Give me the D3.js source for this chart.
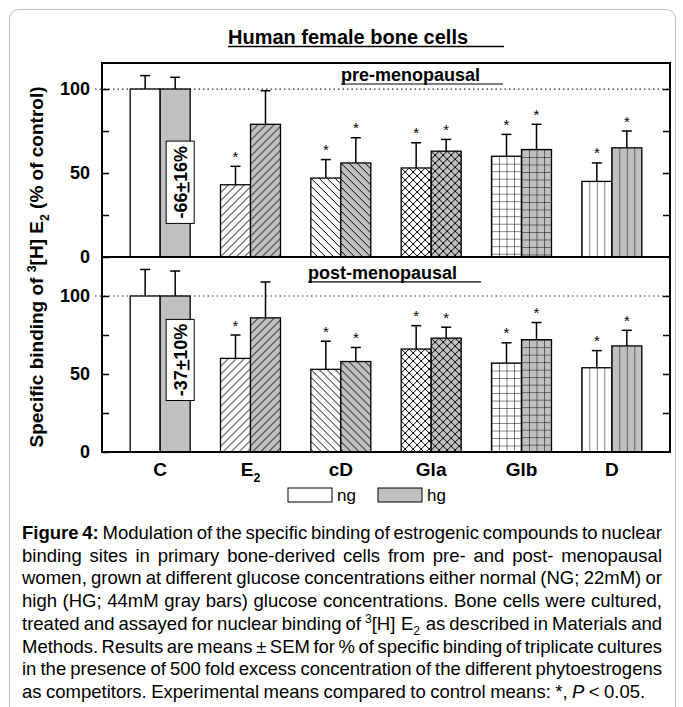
<!DOCTYPE html>
<html>
<head>
<meta charset="utf-8">
<script src="https://cdn.jsdelivr.net/npm/d3@7"></script>
<style>
  body { margin: 0; background: #fff; }
  svg text { font-family: "Liberation Sans Narrow", "Arial Narrow", "Liberation Sans", Arial, sans-serif; fill: #000; }
</style>
</head>
<body>
<div id="container"></div>
<script>
/* DATA */
const categories = ["C", "E2", "cD", "Gla", "Glb", "D"];
const categoryLabels = ["C", "E_2", "cD", "Gla", "Glb", "D"];
const hatches = ["none", "fwd", "back", "cross", "grid", "vert"];
const groups = ["ng", "hg"];

// pre-menopausal, % of control (mean, SEM)
const preNG = [100, 43, 47, 53, 60, 45];
const preNGsem = [8, 11, 11, 15, 13, 11];
const preHG = [100, 79, 56, 63, 64, 65];
const preHGsem = [7, 20, 15, 7, 15, 10];

// post-menopausal
const postNG = [100, 60, 53, 66, 57, 54];
const postNGsem = [17, 15, 18, 15, 13, 11];
const postHG = [100, 86, 58, 73, 72, 68];
const postHGsem = [16, 23, 9, 7, 11, 10];

// * P < 0.05
const ngStar = [0, 1, 1, 1, 1, 1];
const hgStar = [0, 0, 1, 1, 1, 1];

const yTicks = [0, 50, 100];
const yMinor = [25, 75];

const preNote = ["-66", "+", "16%"];
const postNote = ["-37", "+", "10%"];

const captionLines = [
  "Figure 4: Modulation of the specific binding of estrogenic compounds to nuclear",
  "binding sites in primary bone-derived cells from pre- and post- menopausal",
  "women, grown at different glucose concentrations either normal (NG; 22mM) or",
  "high (HG; 44mM gray bars) glucose concentrations. Bone cells were cultured,",
  "treated and assayed for nuclear binding of ^3[H] E_2 as described in Materials and",
  "Methods. Results are means \u00b1 SEM for % of specific binding of triplicate cultures",
  "in the presence of 500 fold excess concentration of the different phytoestrogens",
  "as competitors. Experimental means compared to control means: *, ~P < 0.05."
];

/* LAYOUT */
const W = 683, H = 707;
const left = 102, right = 670;
const gray = "#c0c0c0";

const svg = d3.select("#container").append("svg")
  .attr("width", W).attr("height", H);
const defs = svg.append("defs");

// page frame
svg.append("rect")
  .attr("x", 9.5).attr("y", 9.5).attr("width", 666).attr("height", 730)
  .attr("rx", 9).attr("fill", "none").attr("stroke", "#bdbdbd");

// text with ^sup, _sub and ~italic markers
function addRich(sel, str, size) {
  let italic = false, buf = "";
  const segs = [];
  for (let i = 0; i < str.length; i++) {
    const c = str[i];
    if (c === "~") {
      if (buf) segs.push({ t: buf, off: 0, it: italic });
      buf = ""; italic = true;
    } else if ((c === "^" || c === "_") && i + 1 < str.length) {
      if (buf) segs.push({ t: buf, off: 0, it: italic });
      buf = "";
      segs.push({ t: str[i + 1], off: c === "^" ? -0.38 : 0.3, it: italic, small: true });
      i++;
    } else buf += c;
  }
  if (buf) segs.push({ t: buf, off: 0, it: italic });
  let cur = 0;
  segs.forEach(s => {
    const ts = sel.append("tspan").text(s.t).attr("dy", ((s.off - cur) * size) + "px");
    cur = s.off;
    if (s.small) ts.attr("font-size", (size * 0.65) + "px");
    if (s.it) ts.attr("font-style", "italic");
  });
}

/* SCALES */
const x = d3.scaleBand().domain(categories).range([115, 657]);
const bw = 30;
const cx = c => x(c) + x.bandwidth() / 2;

const panels = [
  { key: "pre", label: "pre-menopausal", ng: preNG, ngSem: preNGsem, hg: preHG, hgSem: preHGsem,
    y: d3.scaleLinear().domain([0, 115.5]).range([257, 63]),
    note: preNote, noteFrom: 20, noteTo: 69, labelX: 341, labelY: 104.5, lineTo: 503 },
  { key: "post", label: "post-menopausal", ng: postNG, ngSem: postNGsem, hg: postHG, hgSem: postHGsem,
    y: d3.scaleLinear().domain([0, 125]).range([452, 257]),
    note: postNote, noteFrom: 33, noteTo: 85, labelX: 308, labelY: 110.6, lineTo: 481 }
];

/* TITLE */
svg.append("text")
  .attr("x", 228).attr("y", 44)
  .attr("font-size", "20px").attr("font-weight", "bold")
  .text("Human female bone cells");
svg.append("line")
  .attr("x1", 228).attr("x2", 504).attr("y1", 46.5).attr("y2", 46.5)
  .attr("stroke", "#000").attr("stroke-width", 1.5);

/* HATCH PATTERNS */
function hatchPath(type, s) {
  const fwd = `M0,${s}L${s},0M${-1},1L1,${-1}M${s - 1},${s + 1}L${s + 1},${s - 1}`;
  const back = `M0,0L${s},${s}M${-1},${s - 1}L1,${s + 1}M${s - 1},${-1}L${s + 1},1`;
  if (type === "fwd") return fwd;
  if (type === "back") return back;
  if (type === "cross") return fwd + back;
  if (type === "grid") return `M0,0L${s},0M0,0L0,${s}`;
  if (type === "vert") return `M0,0L0,${s}`;
  return "";
}

panels.forEach(p => {
  const y = p.y;
  const g = svg.append("g").attr("class", "panel-" + p.key);

  // reference line at 100 %
  g.append("line")
    .attr("x1", 95).attr("x2", right)
    .attr("y1", y(100)).attr("y2", y(100))
    .attr("stroke", "#333").attr("stroke-width", 1.2)
    .attr("stroke-dasharray", "1.5,3");

  // bars
  groups.forEach((grp, gi) => {
    const vals = p[grp], sems = p[grp + "Sem"], stars = grp === "ng" ? ngStar : hgStar;
    const bg = grp === "ng" ? "#fff" : gray;
    const bx = c => gi === 0 ? cx(c) - bw : cx(c);

    categories.forEach((c, i) => {
      const type = hatches[i];
      let fill = bg;
      if (type !== "none") {
        const s = (type === "grid" || type === "vert") ? 7.5 : 8;
        const id = `pat-${p.key}-${grp}-${i}`;
        const pat = defs.append("pattern")
          .attr("id", id).attr("patternUnits", "userSpaceOnUse")
          .attr("x", bx(c)).attr("y", y(vals[i]))
          .attr("width", s).attr("height", s);
        pat.append("rect").attr("width", s).attr("height", s).attr("fill", bg);
        pat.append("path").attr("d", hatchPath(type, s))
          .attr("stroke", "#000").attr("stroke-width", 1).attr("fill", "none");
        fill = `url(#${id})`;
      }
      g.append("rect")
        .attr("x", bx(c)).attr("width", bw)
        .attr("y", y(vals[i])).attr("height", y(0) - y(vals[i]))
        .attr("fill", fill).attr("stroke", "#000").attr("stroke-width", 1.3);

      // upper error bar
      const ex = bx(c) + bw / 2, top = y(vals[i] + sems[i]);
      g.append("line")
        .attr("x1", ex).attr("x2", ex).attr("y1", y(vals[i])).attr("y2", top)
        .attr("stroke", "#000").attr("stroke-width", 1.5);
      g.append("line")
        .attr("x1", ex - 5).attr("x2", ex + 5).attr("y1", top).attr("y2", top)
        .attr("stroke", "#000").attr("stroke-width", 1.5);

      if (stars[i]) {
        g.append("text")
          .attr("x", ex).attr("y", top - 4.5)
          .attr("text-anchor", "middle").attr("font-size", "15px")
          .text("*");
      }
    });
  });

  // percentage note on the control bar
  const nx = cx("C") + 6, nw = 28;
  g.append("rect")
    .attr("x", nx).attr("width", nw)
    .attr("y", y(p.noteTo)).attr("height", y(p.noteFrom) - y(p.noteTo))
    .attr("fill", "#fff").attr("stroke", "#000").attr("stroke-width", 1);
  const nt = g.append("text")
    .attr("transform", `translate(${nx + nw / 2 + 6.5},${(y(p.noteTo) + y(p.noteFrom)) / 2}) rotate(-90)`)
    .attr("text-anchor", "middle").attr("font-size", "18px").attr("font-weight", "bold");
  p.note.forEach((t, k) => {
    const ts = nt.append("tspan").text(t);
    if (k === 1) ts.attr("text-decoration", "underline");
  });

  // panel label
  g.append("text")
    .attr("x", p.labelX).attr("y", y(p.labelY))
    .attr("font-size", "18px").attr("font-weight", "bold")
    .text(p.label);
  g.append("line")
    .attr("x1", p.labelX).attr("x2", p.lineTo)
    .attr("y1", y(p.labelY) + 2.5).attr("y2", y(p.labelY) + 2.5)
    .attr("stroke", "#000").attr("stroke-width", 1.2);

  // axes
  const yAxis = g.append("g")
    .attr("transform", `translate(${left},0)`)
    .call(d3.axisLeft(y).tickValues(yTicks).tickSizeInner(-7).tickSizeOuter(0).tickPadding(12));
  yAxis.append("g").call(d3.axisLeft(y).tickValues(yMinor).tickSizeInner(-7).tickSizeOuter(0).tickFormat(""));
  yAxis.selectAll(".domain").remove();
  yAxis.selectAll("text").attr("font-size", "18px").attr("font-weight", "bold");

  const rAxis = g.append("g")
    .attr("transform", `translate(${right},0)`)
    .call(d3.axisRight(y).tickValues(yMinor.concat([50, 100])).tickSizeInner(-7).tickSizeOuter(0).tickFormat(""));
  rAxis.selectAll(".domain").remove();
  g.selectAll(".tick line").attr("stroke", "#000").attr("stroke-width", 1.5);

  // frame
  g.append("line").attr("x1", left).attr("x2", left)
    .attr("y1", y.range()[1]).attr("y2", y.range()[0])
    .attr("stroke", "#000").attr("stroke-width", 2);
  g.append("line").attr("x1", right).attr("x2", right)
    .attr("y1", y.range()[1]).attr("y2", y.range()[0])
    .attr("stroke", "#000").attr("stroke-width", 2);
  g.append("line").attr("x1", left - 1).attr("x2", right + 1)
    .attr("y1", y(0)).attr("y2", y(0))
    .attr("stroke", "#000").attr("stroke-width", 2);
});

svg.selectAll(".tick text").attr("font-family", null);

// top edge of the upper panel
svg.append("line").attr("x1", left - 1).attr("x2", right + 1)
  .attr("y1", panels[0].y.range()[1]).attr("y2", panels[0].y.range()[1])
  .attr("stroke", "#000").attr("stroke-width", 2);

/* X LABELS */
categories.forEach((c, i) => {
  const t = svg.append("text")
    .attr("x", cx(c)).attr("y", 476)
    .attr("text-anchor", "middle").attr("font-size", "19px").attr("font-weight", "bold");
  addRich(t, categoryLabels[i], 19);
});

/* Y AXIS TITLE */
const yt = svg.append("text")
  .attr("transform", "translate(43,267) rotate(-90)")
  .attr("text-anchor", "middle").attr("font-size", "19px").attr("font-weight", "bold");
addRich(yt, "Specific binding of ^3[H] E_2 (% of control)", 19);

/* LEGEND */
const legX = [288, 378];
groups.forEach((grp, i) => {
  svg.append("rect")
    .attr("x", legX[i]).attr("y", 488).attr("width", 44).attr("height", 14)
    .attr("fill", i === 0 ? "#fff" : gray).attr("stroke", "#000").attr("stroke-width", 1);
  svg.append("text")
    .attr("x", legX[i] + 49).attr("y", 501)
    .attr("font-size", "17px").text(grp);
});

/* CAPTION (justified) */
const capLeft = 22, capRight = 662, capTop = 539, capLead = 22.7, capSize = 18.5;
const cap = svg.append("g");
captionLines.forEach((line, li) => {
  const words = line.split(" ");
  const yy = capTop + li * capLead;
  const nodes = words.map((w, wi) => {
    const t = cap.append("text").attr("y", yy).attr("font-size", capSize + "px");
    if (li === 0 && wi < 2) t.attr("font-weight", "bold");
    addRich(t, w, capSize);
    return t;
  });
  const widths = nodes.map((n, k) => {
    const rich = /[\^_]/.test(words[k]);
    return rich ? n.node().getBBox().width + 1.5 : n.node().getComputedTextLength();
  });
  const total = d3.sum(widths);
  const last = li === captionLines.length - 1;
  const gap = last ? capSize * 0.24 : (capRight - capLeft - total) / (words.length - 1);
  let xx = capLeft;
  nodes.forEach((n, k) => { n.attr("x", xx); xx += widths[k] + gap; });
});
</script>
</body>
</html>
